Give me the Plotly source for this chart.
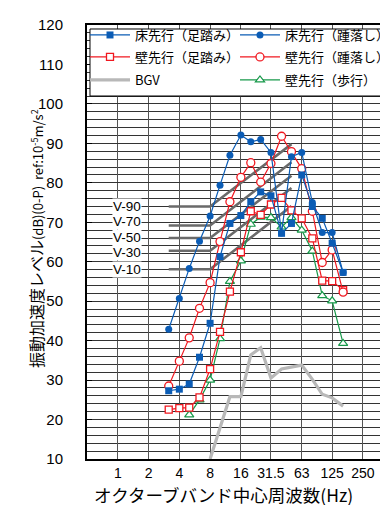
import math
import plotly.graph_objects as go

# 1/3-octave band centre frequencies (Hz)
freq = [3.15, 4, 5, 6.3, 8, 10, 12.5, 16, 20, 25, 31.5, 40, 50, 63, 80, 100, 125, 160]

floor_stomp = [27.3, 27.7, 29.0, 35.8, 44.4, 61.3, 69.7, 71.7, 75.2, 77.7, 76.7, 67.2, 69.7, 82.0, 74.0, 71.0, 64.7, 57.3]
floor_heel = [42.9, 50.7, 58.3, 65.2, 71.6, 79.4, 87.0, 92.1, 90.4, 91.0, 87.7, 67.3, 86.6, 87.7, 75.0, 67.4, 67.4, 57.3]
wall_stomp = [22.5, 22.9, 23.0, 25.6, 32.8, 42.2, 52.4, 62.4, 72.8, 71.9, 74.5, 76.2, 73.0, 71.0, 65.9, 55.2, 55.1, 52.8]
wall_heel = [28.5, 34.8, 40.7, 48.2, 54.7, 65.1, 75.2, 81.4, 85.1, 80.2, 84.9, 91.8, 87.9, 83.6, 72.8, 59.8, 63.0, 52.3]
wall_walk = [None, None, 21.2, 25.0, 30.0, 40.5, 55.0, 60.2, 69.5, 71.3, 71.2, 68.8, 71.2, 68.0, 62.7, 51.4, 50.1, 39.3]

bgv_freq = [8, 10, 12.5, 16, 20, 25, 31.5, 40, 50, 63, 80, 100, 125, 160]
bgv = [10.0, 18.0, 25.8, 25.8, 36.4, 38.2, 30.5, 32.8, 33.2, 33.8, 30.2, 26.4, 25.5, 23.4]

# Evaluation curves (flat 3.15-8 Hz, rising to 50 Hz)
v_freq = [3.15, 8, 50]
v_names = ["V-90", "V-70", "V-50", "V-30", "V-10"]
v_90 = [74.0, 74.0, 89.8]
v_70 = [69.2, 69.2, 85.2]
v_50 = [66.0, 66.0, 81.8]
v_30 = [62.8, 62.8, 78.7]
v_10 = [58.1, 58.1, 74.1]
v_curves = [v_90, v_70, v_50, v_30, v_10]
v_label_freq = 1.22

x_tick_vals = [1, 2, 4, 8, 16, 31.5, 63, 125, 250]
x_tick_text = ["1", "2", "4", "8", "16", "31.5", "63", "125", "250"]
y_tick_vals = list(range(10, 121, 10))

series_names = ["床先行（足踏み）", "床先行（踵落し）", "壁先行（足踏み）", "壁先行（踵落し）", "BGV", "壁先行（歩行）"]

BLUE = "#0b5cb5"
RED = "#f01820"
GREEN = "#17994a"
BGV_C = "#b8b8b8"
VC = "#6a6a6a"
JP = "Noto Sans CJK JP"
LAT = "Liberation Sans"

fig = go.Figure()

for name, lv in zip(v_names, v_curves):
    fig.add_trace(go.Scatter(x=v_freq, y=lv, mode="lines", line=dict(color=VC, width=2.6),
                             showlegend=False, hoverinfo="skip"))

fig.add_trace(go.Scatter(x=bgv_freq, y=bgv, mode="lines", name=series_names[4], legend="legend5",
                         line=dict(color=BGV_C, width=3.2)))
fig.add_trace(go.Scatter(x=freq, y=wall_walk, mode="lines+markers", name=series_names[5], legend="legend6",
                         line=dict(color=GREEN, width=1.2),
                         marker=dict(symbol="triangle-up", size=8, color="white", line=dict(color=GREEN, width=1.2))))
fig.add_trace(go.Scatter(x=freq, y=wall_stomp, mode="lines+markers", name=series_names[2], legend="legend3",
                         line=dict(color=RED, width=1.2),
                         marker=dict(symbol="square", size=7, color="white", line=dict(color=RED, width=1.3))))
fig.add_trace(go.Scatter(x=freq, y=wall_heel, mode="lines+markers", name=series_names[3], legend="legend4",
                         line=dict(color=RED, width=1.2),
                         marker=dict(symbol="circle", size=8, color="white", line=dict(color=RED, width=1.3))))
fig.add_trace(go.Scatter(x=freq, y=floor_heel, mode="lines+markers", name=series_names[1], legend="legend2",
                         line=dict(color=BLUE, width=1.2),
                         marker=dict(symbol="circle", size=7, color=BLUE)))
fig.add_trace(go.Scatter(x=freq, y=floor_stomp, mode="lines+markers", name=series_names[0], legend="legend",
                         line=dict(color=BLUE, width=1.2),
                         marker=dict(symbol="square", size=7, color=BLUE)))

label_shift = [0, 4, 1, -2, 0]
for name, lv, ys in zip(v_names, v_curves, label_shift):
    fig.add_annotation(x=math.log10(v_label_freq), y=lv[0], xref="x", yref="y",
                       text=name, showarrow=False, bgcolor="white", yshift=ys,
                       font=dict(family=LAT, size=13.5, color="black"), borderpad=0)

# y-axis title
y_title = ("<span style='font-size:16px'>振動加速度レベル</span>"
           "(dB)(0-P)  ref:10<sup>-5</sup>m/s<sup>2</sup>")
fig.add_annotation(x=-0.168, y=0.507, xref="paper", yref="paper", textangle=-90,
                   text=y_title, showarrow=False, xanchor="center", yanchor="middle",
                   font=dict(family=JP, size=13, color="black"))

# x-axis title
fig.add_annotation(x=0.4917, y=-0.0968, xref="paper", yref="paper",
                   text="オクターブバンド中心周波数(Hz)", showarrow=False,
                   xanchor="center", yanchor="middle", xshift=-12, yshift=7,
                   font=dict(family=JP, size=17.5, color="black"))

# legend frame
fig.add_shape(type="rect", xref="paper", yref="paper", x0=0.0099, x1=0.9934, y0=0.8364, y1=0.9908,
              fillcolor="white", line=dict(color="black", width=1), layer="above")

col_x = [-0.0066, 0.4884]
row_y = [1.0115, 0.9608, 0.9078]


def leg(cx, ry):
    return dict(orientation="v", x=cx, xanchor="left", y=ry, yanchor="top",
                bgcolor="rgba(0,0,0,0)", borderwidth=0, itemwidth=40,
                font=dict(family=JP, size=13, color="black"))


fig.update_layout(
    width=388, height=505,
    margin=dict(l=79, r=6, t=17, b=54, autoexpand=False),
    paper_bgcolor="white", plot_bgcolor="white",
    font=dict(family=JP, color="black"),
    legend=leg(col_x[0], row_y[0]),
    legend2=leg(col_x[1], row_y[0]),
    legend3=leg(col_x[0], row_y[1]),
    legend4=leg(col_x[1], row_y[1]),
    legend5=leg(col_x[0], row_y[2]),
    legend6=leg(col_x[1], row_y[2]),
)

fig.update_xaxes(type="log", range=[math.log10(0.5), math.log10(460)],
                 tickvals=x_tick_vals, ticktext=x_tick_text, ticks="",
                 showgrid=True, gridcolor="#555555", gridwidth=1.3,
                 showline=True, linecolor="black", linewidth=2, mirror=True,
                 tickfont=dict(family=LAT, size=14, color="black"),
                 zeroline=False)
fig.update_yaxes(range=[10, 120], tickvals=y_tick_vals, ticks="inside", ticklen=5, tickcolor="black",
                 showgrid=True, gridcolor="#333333", gridwidth=1,
                 minor=dict(dtick=2, showgrid=True, gridcolor="#333333", gridwidth=1),
                 showline=True, linecolor="black", linewidth=2, mirror=True,
                 tickfont=dict(family=LAT, size=15, color="black"), ticklabelstandoff=19,
                 zeroline=False)

fig.write_html("out.html")
